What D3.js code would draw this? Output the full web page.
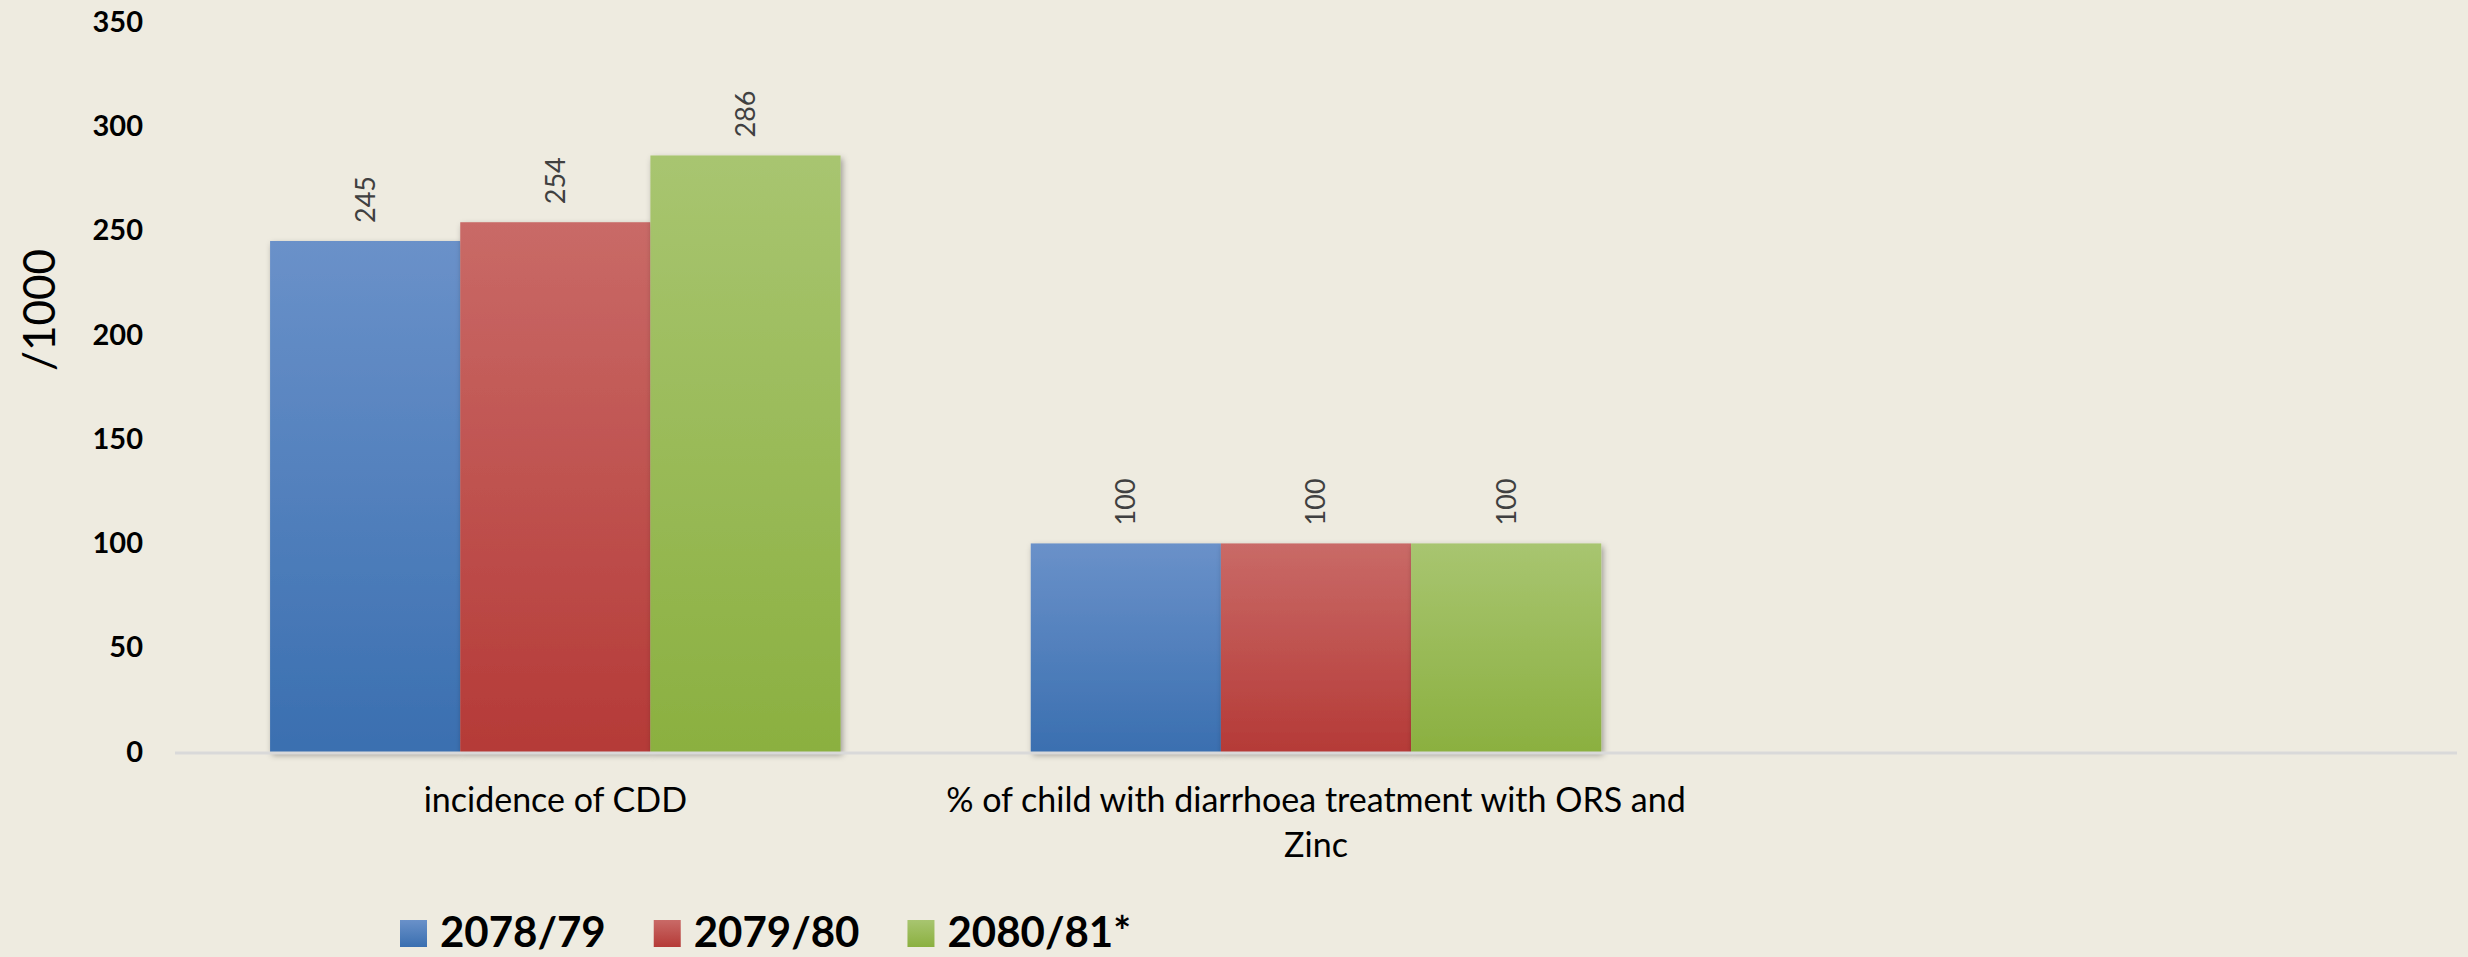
<!DOCTYPE html>
<html>
<head>
<meta charset="utf-8">
<script src="https://cdn.jsdelivr.net/npm/d3@7"></script>
<style>
  html, body { margin: 0; padding: 0; background: #eeebe0; }
  svg { display: block; font-family: Lato, "Liberation Sans", sans-serif; }
</style>
</head>
<body>
<svg id="chart" width="2468" height="957"></svg>
<script>
(function() {
  /* Data */
  var categories = ['incidence of CDD', '% of child with diarrhoea treatment with ORS and\nZinc', ''];
  var seriesNames = ['2078/79', '2079/80', '2080/81*'];
  var values2078 = [245, 100, null],
      values2079 = [254, 100, null],
      values2080 = [286, 100, null];
  var yTicks = [0, 50, 100, 150, 200, 250, 300, 350];
  var yTitle = '/1000';

  var seriesValues = [values2078, values2079, values2080];
  var colors = [
    { top: '#6a91c9', bottom: '#3a6fb0' },
    { top: '#c96a67', bottom: '#b53a37' },
    { top: '#a8c570', bottom: '#8bb040' }
  ];

  var left = 175,
      right = 2457,
      top = 22,
      bottom = 752;

  var svg = d3.select('#chart');

  var defs = svg.append('defs');
  colors.forEach(function(c, i) {
    var g = defs.append('linearGradient')
      .attr('id', 'grad' + i)
      .attr('x1', 0).attr('y1', 0)
      .attr('x2', 0).attr('y2', 1);
    g.append('stop').attr('offset', '0%').attr('stop-color', c.top);
    g.append('stop').attr('offset', '100%').attr('stop-color', c.bottom);
  });
  defs.append('filter')
      .attr('id', 'shadow')
      .attr('x', '-5%').attr('y', '-5%')
      .attr('width', '115%').attr('height', '115%')
    .append('feDropShadow')
      .attr('dx', 2).attr('dy', 3)
      .attr('stdDeviation', 3)
      .attr('flood-color', '#000')
      .attr('flood-opacity', 0.35);

  var y = d3.scaleLinear()
    .domain([0, 350])
    .range([bottom, top]);

  var x0 = d3.scaleBand()
    .domain(d3.range(categories.length))
    .range([left, right])
    .padding(0);

  var x1 = d3.scaleBand()
    .domain(d3.range(seriesNames.length))
    .range([0, x0.bandwidth()])
    .paddingInner(0)
    .paddingOuter(0.5);

  // y axis: labels only
  var yAxis = svg.append('g')
    .attr('transform', 'translate(' + left + ',0)')
    .call(d3.axisLeft(y).tickValues(yTicks).tickSize(0).tickPadding(32));
  yAxis.select('.domain').remove();
  yAxis.selectAll('text')
    .attr('font-family', 'Lato, "Liberation Sans", sans-serif')
    .attr('font-size', 29)
    .attr('font-weight', 'bold')
    .attr('fill', '#000');

  // axis title
  svg.append('text')
    .attr('transform', 'translate(40,310) rotate(-90)')
    .attr('text-anchor', 'middle')
    .attr('dy', '0.35em')
    .attr('font-size', 44)
    .attr('fill', '#000')
    .text(yTitle);

  // bars, one group per category
  var groups = svg.selectAll('g.cat')
    .data(categories.map(function(c, i) { return i; }))
    .enter()
    .append('g')
      .attr('class', 'cat')
      .attr('transform', function(d) { return 'translate(' + x0(d) + ',0)'; });

  var bars = groups.selectAll('g.bar')
    .data(function(ci) {
      return seriesValues.map(function(vals, si) {
        return { series: si, value: vals[ci] };
      }).filter(function(d) { return d.value != null; });
    })
    .enter()
    .append('g')
      .attr('class', 'bar');

  bars.append('rect')
    .attr('x', function(d) { return x1(d.series); })
    .attr('y', function(d) { return y(d.value); })
    .attr('width', x1.bandwidth())
    .attr('height', function(d) { return y(0) - y(d.value); })
    .attr('fill', function(d) { return 'url(#grad' + d.series + ')'; })
    .attr('filter', 'url(#shadow)');

  // data labels, rotated
  bars.append('text')
    .attr('transform', function(d) {
      return 'translate(' + (x1(d.series) + x1.bandwidth() / 2) + ',' + (y(d.value) - 18) + ') rotate(-90)';
    })
    .attr('dy', '0.35em')
    .attr('text-anchor', 'start')
    .attr('font-size', 27)
    .attr('fill', '#404040')
    .text(function(d) { return d.value; });

  // baseline
  svg.append('line')
    .attr('x1', left).attr('x2', right)
    .attr('y1', y(0) + 1).attr('y2', y(0) + 1)
    .attr('stroke', '#d9d9d9')
    .attr('stroke-width', 3);

  // category labels
  var catLabels = svg.selectAll('text.cat-label')
    .data(categories)
    .enter()
    .append('text')
      .attr('class', 'cat-label')
      .attr('text-anchor', 'middle')
      .attr('font-size', 34)
      .attr('fill', '#000');
  catLabels.each(function(d, i) {
    var t = d3.select(this);
    d.split('\n').forEach(function(line, li) {
      t.append('tspan')
        .attr('x', x0(i) + x0.bandwidth() / 2)
        .attr('y', 812 + li * 45)
        .text(line);
    });
  });

  // legend
  var legend = svg.append('g').attr('class', 'legend');
  var lx = 400;
  seriesNames.forEach(function(name, i) {
    legend.append('rect')
      .attr('x', lx).attr('y', 920)
      .attr('width', 27).attr('height', 27)
      .attr('fill', 'url(#grad' + i + ')');
    var t = legend.append('text')
      .attr('x', lx + 40).attr('y', 947)
      .attr('font-size', 42)
      .attr('font-weight', 'bold')
      .attr('fill', '#000')
      .text(name);
    lx += 40 + t.node().getComputedTextLength() + 48;
  });
})();
</script>
</body>
</html>
